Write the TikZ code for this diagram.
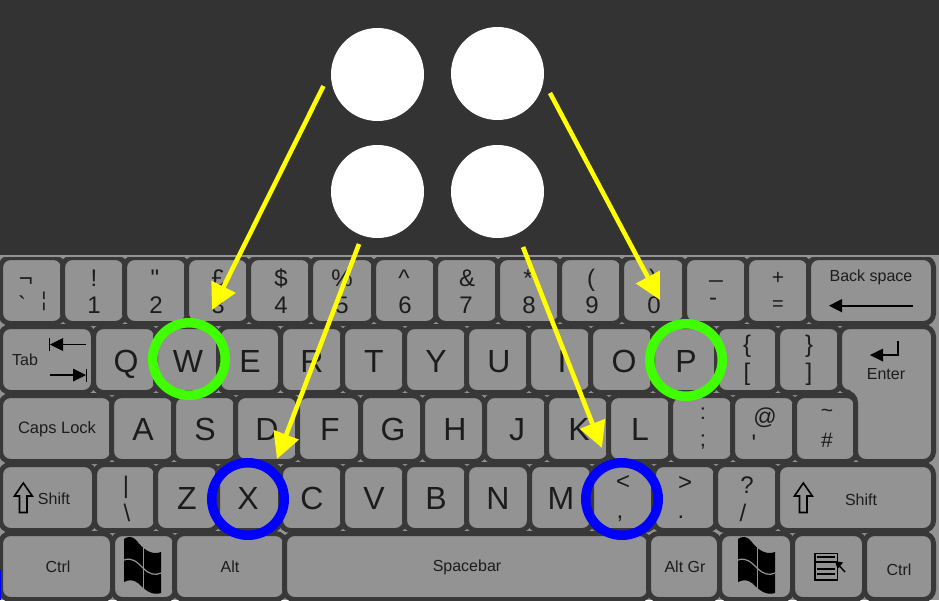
\documentclass[tikz,border=0pt]{standalone}
\usepackage{fontspec}
\setmainfont{Liberation Sans}[Ligatures=TeXOff]
\usetikzlibrary{arrows.meta}
\definecolor{bgdark}{HTML}{333333}
\definecolor{gapdark}{HTML}{383838}
\definecolor{face}{HTML}{939393}
\definecolor{ink}{HTML}{1C1C1C}
\definecolor{ringgreen}{HTML}{40FF00}
\definecolor{ringblue}{HTML}{0000FF}
\definecolor{arrowyellow}{HTML}{FFFF00}
\tikzset{
  keycap/.style={draw=gapdark,fill=face,line width=5pt,rounded corners=10pt,inner sep=0pt,outer sep=0pt},
  legend/.style={inner sep=0pt,outer sep=0pt,text=ink,anchor=base},
  ring/.style={circle,draw=#1,line width=9.5pt,minimum size=72.5pt,inner sep=0pt,fill=none},
  dot/.style={circle,fill=white,minimum size=93pt,inner sep=0pt,outer sep=0pt},
  pointer/.style={draw=arrowyellow,fill=arrowyellow,line width=4.6pt,-{Triangle[length=26pt,width=26pt]}},
  icon/.style={draw=black,line width=1.6pt},
}
\newcounter{keyn}
\newcounter{labn}
% \kcap{x1}{x2}{y1}{y2}: key with face x1..x2,y1..y2
\newcommand{\kcap}[4]{%
  \stepcounter{keyn}%
  \pgfmathsetmacro{\kw}{#2-#1+5}\pgfmathsetmacro{\kh}{#4-#3+5}%
  \node[keycap,minimum width=\kw pt,minimum height=\kh pt] (key\thekeyn) at ({(#1+#2)/2},{(#3+#4)/2}) {};}
% \lab{x}{baseline}{size}{text}
\newcommand{\lab}[4]{%
  \stepcounter{labn}%
  \node[legend,font=\fontsize{#3}{#3}\selectfont] (lab\thelabn) at (#1,#2) {#4};}
\newcommand{\winlogo}[1]{%
  \begin{scope}[xshift=#1pt]
    \fill[black] (124,539) .. controls (128,536) and (133,536) .. (137,541)
      .. controls (142,548) and (151,556) .. (161,552) -- (161,593)
      .. controls (152,596) and (145,590) .. (138,583)
      .. controls (133,579) and (128,580) .. (124,582) -- cycle;
    \draw[face,line width=1.2pt] (124,560) .. controls (132,557) and (137,562) .. (143,568)
      .. controls (149,574) and (155,576) .. (161,573);
    \draw[face,line width=1pt] (143,541) -- (143,590);
  \end{scope}}
\newcommand{\uparrowicon}[1]{%
  \draw[icon,line join=miter,xshift=#1pt] (23.3,483) -- (32.3,496) -- (27,496) -- (27,512.5) -- (19.5,512.5) -- (19.5,496) -- (14.5,496) -- cycle;}
\begin{document}
\begin{tikzpicture}[x=1pt,y=-1pt]
\useasboundingbox (0,0) rectangle (939,600);
\fill[bgdark] (0,0) rectangle (939,255);
\fill[face] (0,255) rectangle (939,600);
% row 1
\kcap{3}{61}{260}{321}\kcap{65}{123}{260}{321}\kcap{127}{185}{260}{321}\kcap{189}{247}{260}{321}
\kcap{251}{309}{260}{321}\kcap{313}{372}{260}{321}\kcap{376}{434}{260}{321}\kcap{438}{496}{260}{321}
\kcap{500}{558}{260}{321}\kcap{562}{620}{260}{321}\kcap{624}{683}{260}{321}\kcap{687}{745}{260}{321}
\kcap{749}{807}{260}{321}\kcap{811}{931}{260}{321}
% row 2
\kcap{3}{91}{329}{390}\kcap{96}{154}{329}{390}\kcap{158}{216}{329}{390}\kcap{221}{278}{329}{390}
\kcap{283}{341}{329}{390}\kcap{345}{403}{329}{390}\kcap{407}{465}{329}{390}\kcap{469}{527}{329}{390}
\kcap{531}{589}{329}{390}\kcap{593}{651}{329}{390}\kcap{655}{714}{329}{390}\kcap{719}{776}{329}{390}
\kcap{780}{838}{329}{390}
% row 3
\kcap{3}{110}{398}{459}\kcap{114}{172}{398}{459}\kcap{176}{234}{398}{459}\kcap{238}{296}{398}{459}
\kcap{300}{358}{398}{459}\kcap{363}{420}{398}{459}\kcap{425}{482}{398}{459}\kcap{487}{545}{398}{459}
\kcap{549}{607}{398}{459}\kcap{611}{669}{398}{459}\kcap{673}{731}{398}{459}\kcap{735}{793}{398}{459}
\kcap{797}{854}{398}{459}
% enter key (L shape)
\draw[draw=gapdark,fill=face,line width=5pt,rounded corners=10pt]
  (839.5,326.5) -- (933.5,326.5) -- (933.5,461.5) -- (855.5,461.5) -- (855.5,392.5) -- (839.5,392.5) -- cycle;
% row 4
\kcap{3}{92}{467}{528}\kcap{97}{154}{467}{528}\kcap{158}{216}{467}{528}\kcap{220}{278}{467}{528}
\kcap{283}{341}{467}{528}\kcap{345}{403}{467}{528}\kcap{407}{465}{467}{528}\kcap{469}{527}{467}{528}
\kcap{532}{590}{467}{528}\kcap{594}{652}{467}{528}\kcap{656}{714}{467}{528}\kcap{718}{776}{467}{528}
\kcap{780}{931}{467}{528}
% row 5
\kcap{3}{110}{536}{597}\kcap{115}{173}{536}{597}\kcap{177}{283}{536}{597}\kcap{287}{647}{536}{597}
\kcap{651}{717}{536}{597}\kcap{722}{790}{536}{597}\kcap{795}{862}{536}{597}\kcap{867}{931}{536}{597}
% thin lighter edge along the top of the keyboard
\fill[face] (0,255) rectangle (939,256.5);
% number row legends
\lab{26}{286}{24}{¬}\lab{22}{313}{24}{`}\lab{44}{306}{20}{¦}
\lab{94}{286}{24}{!}\lab{94}{313}{24}{1}
\lab{155}{286}{24}{"}\lab{156}{313}{24}{2}
\lab{218}{286}{24}{£}\lab{218}{313}{24}{3}
\lab{281}{286}{24}{\$}\lab{281}{313}{24}{4}
\lab{342}{286}{24}{\%}\lab{342}{313}{24}{5}
\lab{404}{286}{24}{\^{}}\lab{405}{313}{24}{6}
\lab{467}{286}{24}{\&}\lab{466}{313}{24}{7}
\lab{528}{286}{24}{*}\lab{529}{313}{24}{8}
\lab{591}{286}{24}{(}\lab{592}{313}{24}{9}
\lab{653}{286}{24}{)}\lab{654}{313}{24}{0}
\lab{716}{277}{24}{\_}\lab{713}{305}{24}{-}
\lab{778}{284}{21}{+}\lab{778}{310}{20}{=}
% row 2 legends
\lab{126}{372}{32}{Q}\lab{188}{372}{32}{W}\lab{250}{372}{32}{E}\lab{312}{372}{32}{R}
\lab{374}{372}{32}{T}\lab{436}{372}{32}{Y}\lab{499}{372}{32}{U}\lab{562}{372}{32}{I}
\lab{624}{372}{32}{O}\lab{686}{372}{32}{P}
\lab{747}{352}{24}{\{}\lab{747}{380}{24}{[}\lab{809}{352}{24}{\}}\lab{809}{380}{24}{]}
% row 3 legends
\lab{143}{440}{32}{A}\lab{205}{440}{32}{S}\lab{267}{440}{32}{D}\lab{330}{440}{32}{F}
\lab{393}{440}{32}{G}\lab{455}{440}{32}{H}\lab{517}{440}{32}{J}\lab{579}{440}{32}{K}\lab{640}{440}{32}{L}
\lab{703}{419}{22}{:}\lab{703}{446}{22}{;}
\lab{765}{424}{23}{@}\lab{754}{451}{24}{'}
\lab{827}{417}{21}{\textasciitilde}\lab{827}{447}{21}{\#}
% row 4 legends
\lab{126}{493}{24}{|}\lab{127}{521}{24}{\textbackslash}
\lab{187}{509}{32}{Z}\lab{248}{509}{32}{X}\lab{312}{509}{32}{C}\lab{374}{509}{32}{V}
\lab{436}{509}{32}{B}\lab{498}{509}{32}{N}\lab{561}{509}{32}{M}
\lab{623}{489}{24}{<}\lab{620}{518}{24}{,}
\lab{685}{490}{24}{>}\lab{681}{518}{24}{.}
\lab{747}{493}{24}{?}\lab{743}{521}{24}{/}
% word legends
\lab{25}{365}{16}{Tab}
\lab{871}{281}{16}{Back space}
\lab{886}{379}{16}{Enter}
\lab{57}{433}{16.5}{Caps Lock}
\lab{54}{504}{16}{Shift}
\lab{861}{505}{16}{Shift}
\lab{58}{572}{16}{Ctrl}
\lab{230}{572}{16}{Alt}
\lab{467}{571}{16}{Spacebar}
\lab{685}{572}{16}{Alt Gr}
\lab{899}{575}{16}{Ctrl}
% small icons
\draw[icon] (63,344.5) -- (86,344.5);
\fill[black] (50,344.5) -- (63,338) -- (63,351) -- cycle;
\draw[icon] (49.5,338) -- (49.5,351);
\draw[icon] (50,375) -- (73,375);
\fill[black] (86,375) -- (73,368.5) -- (73,381.5) -- cycle;
\draw[icon] (86.5,368.5) -- (86.5,381.5);
\draw[icon] (842,305.7) -- (913,305.7);
\fill[black] (829,305.7) -- (842,299) -- (842,312.4) -- cycle;
\draw[icon] (898,341) -- (898,355) -- (883,355);
\fill[black] (870,355) -- (883,348.5) -- (883,361.5) -- cycle;
\uparrowicon{0}
\uparrowicon{780}
\winlogo{0}
\winlogo{614}
\draw[icon] (815,553.5) rectangle (837.5,580);
\draw[icon,line width=1.2pt] (817,557) -- (835,557);
\draw[icon,line width=2pt] (815,561.5) -- (837.5,561.5);
\draw[icon,line width=1.2pt] (817,569) -- (835,569);
\draw[icon,line width=1.2pt] (817,574) -- (835,574);
\draw[icon,line width=1.4pt] (845,572) -- (839,565.5);
\fill[black] (835,561) -- (843,562.5) -- (837.5,569) -- cycle;
% stray mark at the lower left edge
\fill[ringblue] (0,570) rectangle (1,600);
% rings
\node[ring=ringgreen] (ringW) at (189,359) {};
\node[ring=ringgreen] (ringP) at (686,360) {};
\node[ring=ringblue] (ringX) at (248,499) {};
\node[ring=ringblue] (ringComma) at (622,499) {};
% dots
\node[dot] (dotTL) at (377.5,74.5) {};
\node[dot] (dotTR) at (497.5,73.5) {};
\node[dot] (dotBL) at (377.5,191.5) {};
\node[dot] (dotBR) at (497.5,191.5) {};
% connectors
\coordinate (fromTL) at (323.5,86);
\coordinate (toTL) at (212,310);
\coordinate (fromTR) at (550,93);
\coordinate (toTR) at (660,300);
\coordinate (fromBL) at (359,244);
\coordinate (toBL) at (277,459);
\coordinate (fromBR) at (523,247);
\coordinate (toBR) at (602,448);
\draw[pointer] (fromTL) -- (toTL);
\draw[pointer] (fromTR) -- (toTR);
\draw[pointer] (fromBL) -- (toBL);
\draw[pointer] (fromBR) -- (toBR);
\end{tikzpicture}
\end{document}
